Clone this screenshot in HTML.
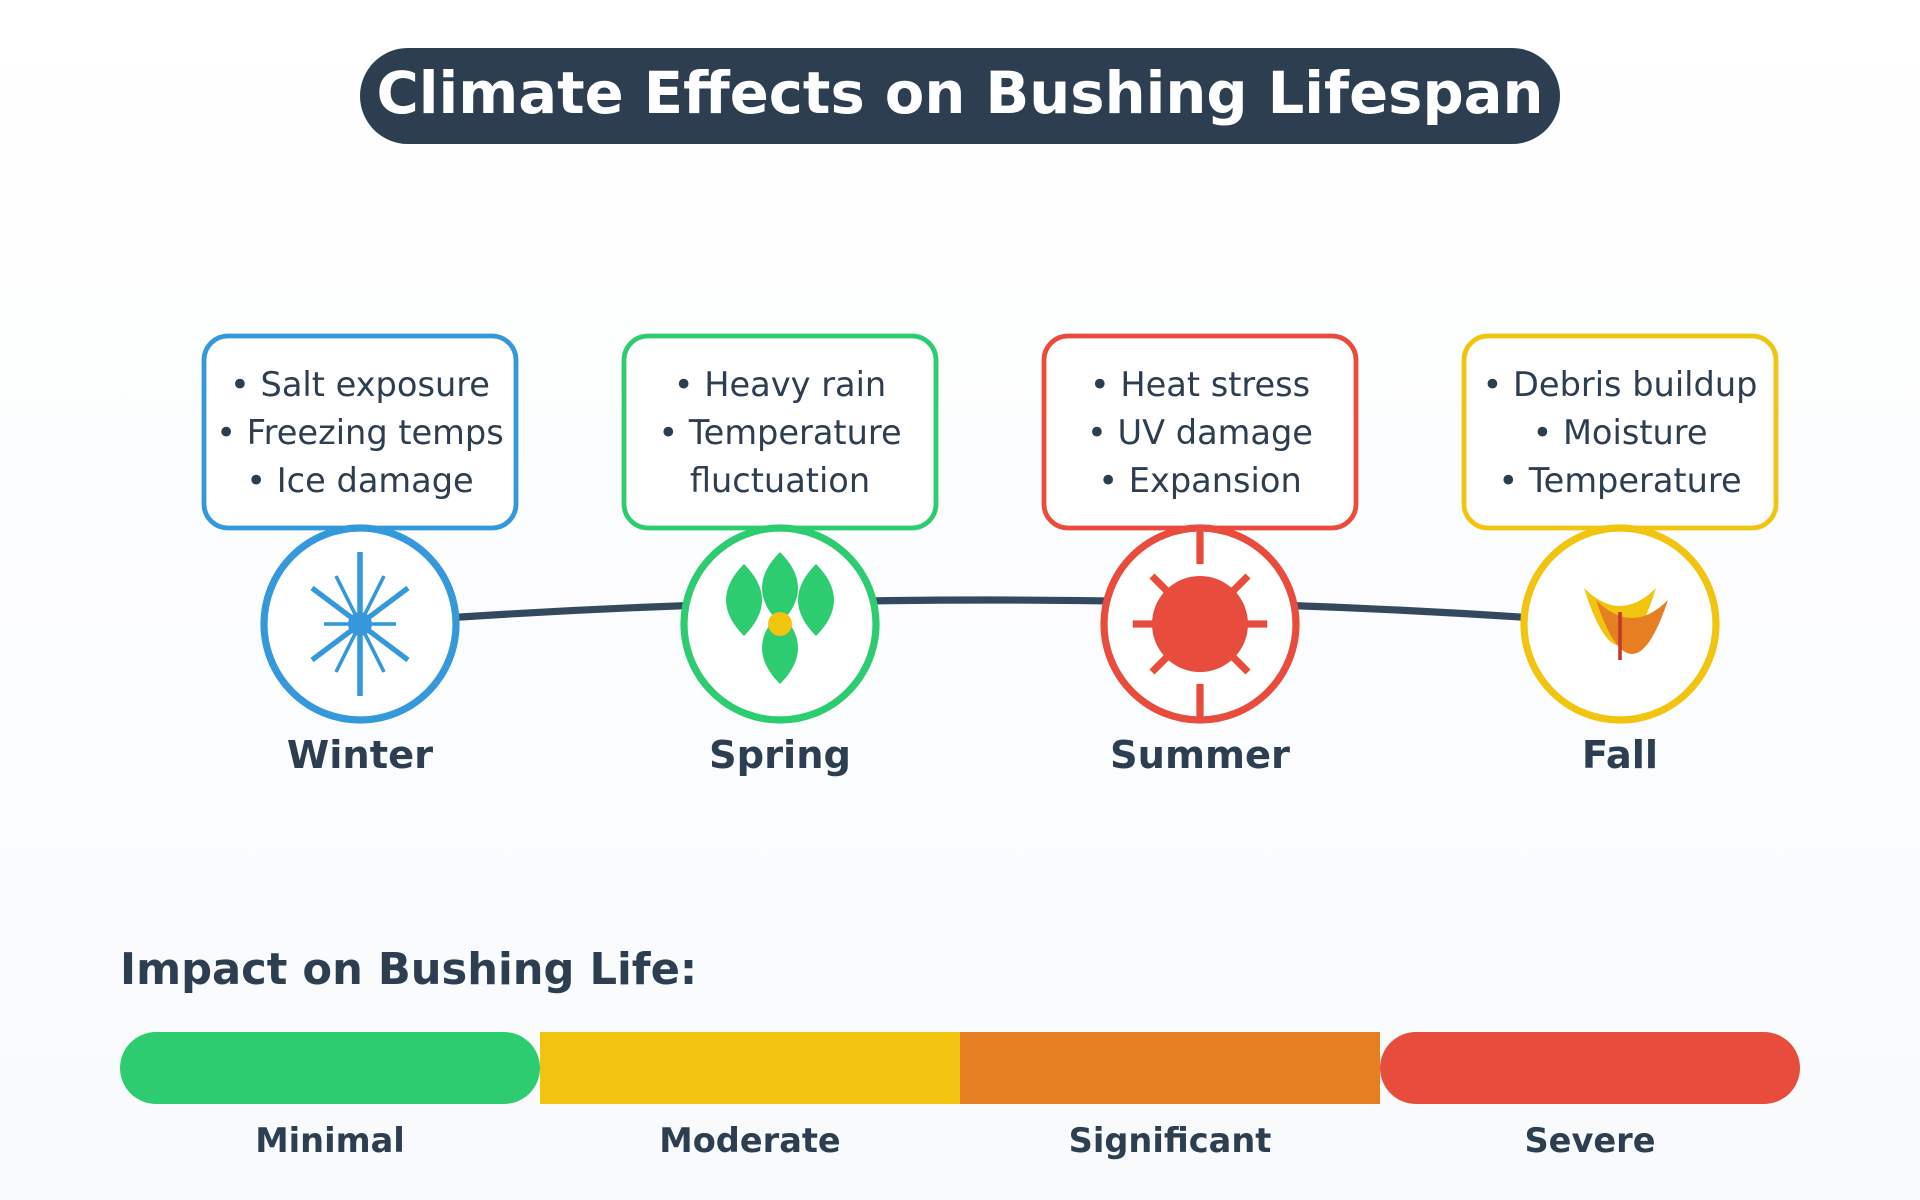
<!DOCTYPE html>
<html lang="en">
<head>
<meta charset="utf-8">
<title>Climate Effects on Bushing Lifespan</title>
<style>
  html, body { margin: 0; padding: 0; width: 1920px; height: 1200px; overflow: hidden; background: #fff; }
  svg { display: block; }
  text { font-family: "DejaVu Sans", "Liberation Sans", sans-serif; }
</style>
</head>
<body>
<svg xmlns="http://www.w3.org/2000/svg" width="1920" height="1200" viewBox="0 0 800 500">
  <defs>
    <linearGradient id="bg" x1="0" y1="0" x2="0" y2="1">
      <stop offset="0" stop-color="#ffffff"/>
      <stop offset="1" stop-color="#f8fafc"/>
    </linearGradient>
  </defs>
  <rect x="0" y="0" width="800" height="500" fill="url(#bg)"/>

  <g>
    <rect x="150" y="20" width="500" height="40" rx="20" fill="#2c3e50"/>
    <text x="400" y="47" text-anchor="middle" font-size="24" font-weight="bold" fill="#ffffff">Climate Effects on Bushing Lifespan</text>
  </g>

  <path d="M150,260 Q412.5,240 675,260" fill="none" stroke="#34495e" stroke-width="3"/>

  <g>
    <rect x="85" y="140" width="130" height="80" rx="10" fill="#ffffff" stroke="#3498db" stroke-width="2"/>
    <g font-size="14" fill="#2c3e50" text-anchor="middle">
      <text x="150" y="165">• Salt exposure</text>
      <text x="150" y="185">• Freezing temps</text>
      <text x="150" y="205">• Ice damage</text>
    </g>
    <circle cx="150" cy="260" r="40" fill="#ffffff" stroke="#3498db" stroke-width="3"/>
    <g stroke="#3498db" fill="none">
      <line x1="150" y1="230" x2="150" y2="290" stroke-width="2.3"/>
      <line x1="130" y1="245" x2="170" y2="275" stroke-width="2.2"/>
      <line x1="130" y1="275" x2="170" y2="245" stroke-width="2.2"/>
      <line x1="135" y1="260" x2="165" y2="260" stroke-width="1.5"/>
      <line x1="140" y1="240" x2="160" y2="280" stroke-width="1.5"/>
      <line x1="140" y1="280" x2="160" y2="240" stroke-width="1.5"/>
      <circle cx="150" cy="260" r="5" fill="#3498db" stroke="none"/>
    </g>
    <text x="150" y="320" text-anchor="middle" font-size="16" font-weight="bold" fill="#2c3e50">Winter</text>
  </g>

  <g>
    <rect x="260" y="140" width="130" height="80" rx="10" fill="#ffffff" stroke="#2ecc71" stroke-width="2"/>
    <g font-size="14" fill="#2c3e50" text-anchor="middle">
      <text x="325" y="165">• Heavy rain</text>
      <text x="325" y="185">• Temperature</text>
      <text x="325" y="205">fluctuation</text>
    </g>
    <circle cx="325" cy="260" r="40" fill="#ffffff" stroke="#2ecc71" stroke-width="3"/>
    <g fill="#2ecc71">
      <path d="M325,230 Q340,245 325,260 Q310,245 325,230Z"/>
      <path d="M310,235 Q325,250 310,265 Q295,250 310,235Z"/>
      <path d="M340,235 Q355,250 340,265 Q325,250 340,235Z"/>
      <path d="M325,255 Q340,270 325,285 Q310,270 325,255Z"/>
      <circle cx="325" cy="260" r="5" fill="#f1c40f"/>
    </g>
    <text x="325" y="320" text-anchor="middle" font-size="16" font-weight="bold" fill="#2c3e50">Spring</text>
  </g>

  <g>
    <rect x="435" y="140" width="130" height="80" rx="10" fill="#ffffff" stroke="#e74c3c" stroke-width="2"/>
    <g font-size="14" fill="#2c3e50" text-anchor="middle">
      <text x="500" y="165">• Heat stress</text>
      <text x="500" y="185">• UV damage</text>
      <text x="500" y="205">• Expansion</text>
    </g>
    <circle cx="500" cy="260" r="40" fill="#ffffff" stroke="#e74c3c" stroke-width="3"/>
    <g stroke="#e74c3c" stroke-width="3">
      <line x1="500" y1="220" x2="500" y2="235"/>
      <line x1="500" y1="285" x2="500" y2="300"/>
      <line x1="472" y1="260" x2="528" y2="260"/>
      <line x1="480" y1="240" x2="520" y2="280"/>
      <line x1="480" y1="280" x2="520" y2="240"/>
      <circle cx="500" cy="260" r="20" fill="#e74c3c" stroke="none"/>
    </g>
    <text x="500" y="320" text-anchor="middle" font-size="16" font-weight="bold" fill="#2c3e50">Summer</text>
  </g>

  <g>
    <rect x="610" y="140" width="130" height="80" rx="10" fill="#ffffff" stroke="#f1c40f" stroke-width="2"/>
    <g font-size="14" fill="#2c3e50" text-anchor="middle">
      <text x="675" y="165">• Debris buildup</text>
      <text x="675" y="185">• Moisture</text>
      <text x="675" y="205">• Temperature</text>
    </g>
    <circle cx="675" cy="260" r="40" fill="#ffffff" stroke="#f1c40f" stroke-width="3"/>
    <g>
      <path d="M660,245 Q675,260 690,245 Q675,293 660,245Z" fill="#f1c40f"/>
      <path d="M665,250 Q680,265 695,250 Q680,295 665,250Z" fill="#e67e22"/>
      <line x1="675" y1="255" x2="675" y2="275" stroke="#c0392b" stroke-width="1.5"/>
    </g>
    <text x="675" y="320" text-anchor="middle" font-size="16" font-weight="bold" fill="#2c3e50">Fall</text>
  </g>

  <g>
    <text x="50" y="410" font-size="18" font-weight="bold" fill="#2c3e50">Impact on Bushing Life:</text>
    <rect x="50" y="430" width="175" height="30" rx="15" fill="#2ecc71"/>
    <rect x="225" y="430" width="175" height="30" fill="#f1c40f"/>
    <rect x="400" y="430" width="175" height="30" fill="#e67e22"/>
    <rect x="575" y="430" width="175" height="30" rx="15" fill="#e74c3c"/>
    <g font-size="14" font-weight="bold" fill="#2c3e50" text-anchor="middle">
      <text x="137.5" y="480">Minimal</text>
      <text x="312.5" y="480">Moderate</text>
      <text x="487.5" y="480">Significant</text>
      <text x="662.5" y="480">Severe</text>
    </g>
  </g>
</svg>
</body>
</html>
